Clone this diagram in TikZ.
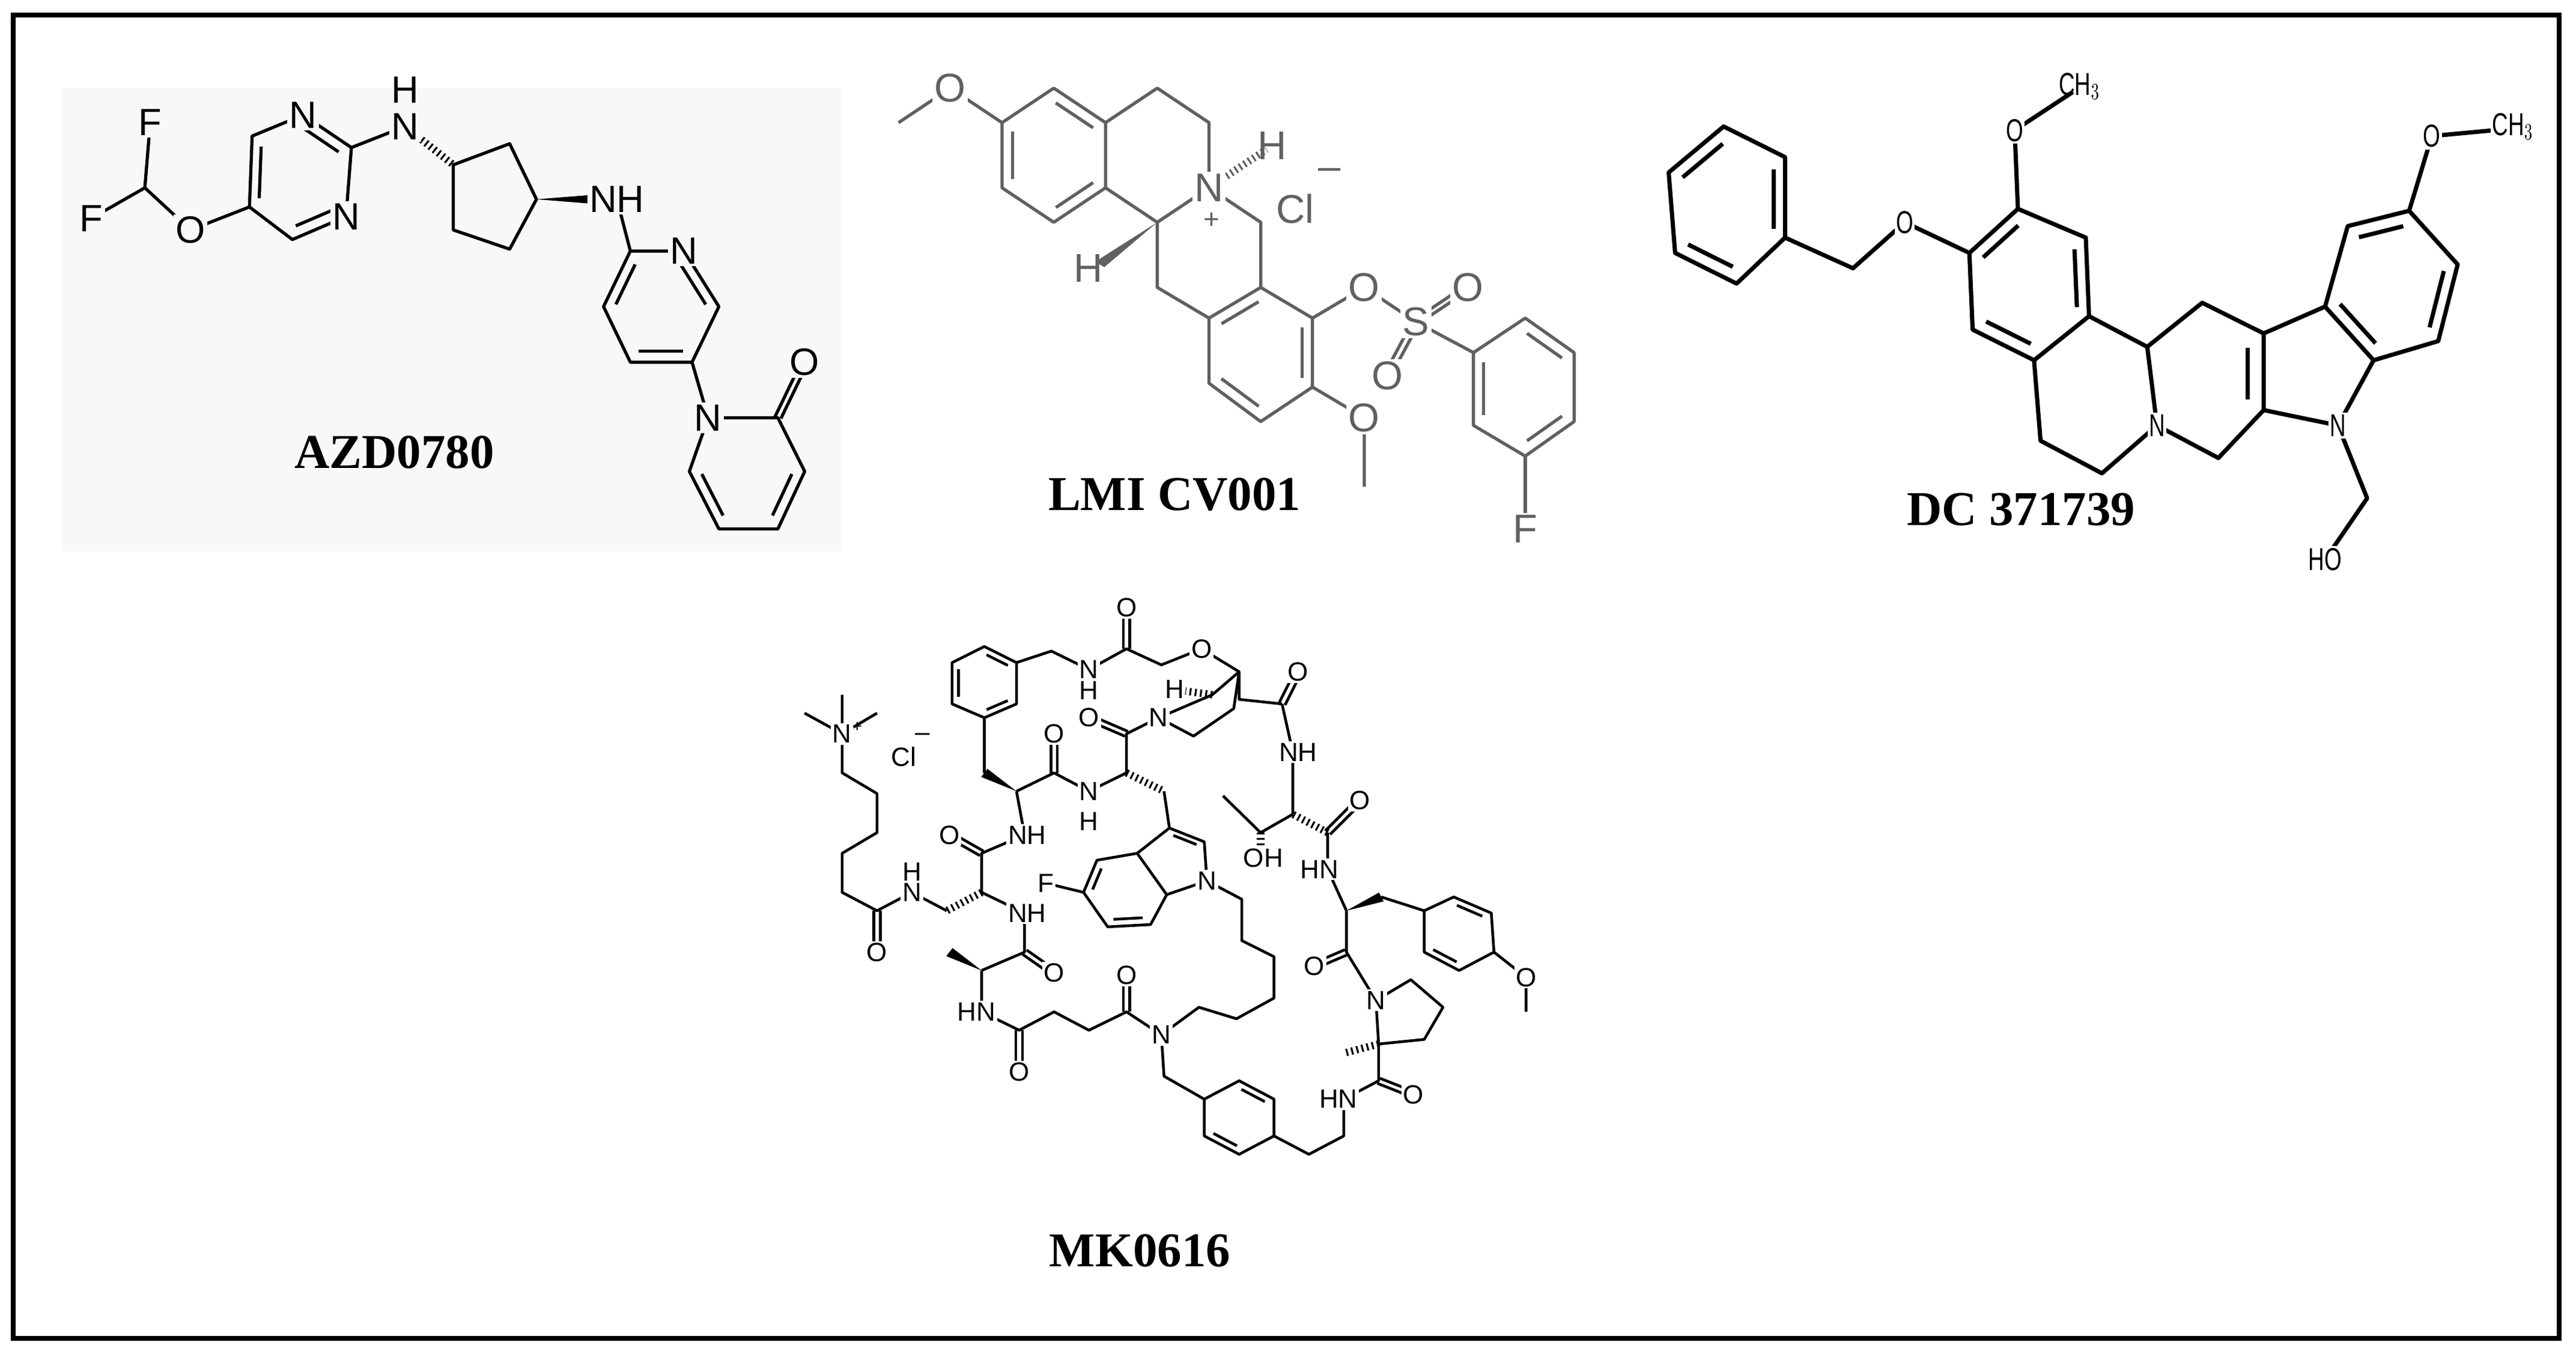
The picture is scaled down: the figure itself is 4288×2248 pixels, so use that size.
\documentclass[tikz,border=0pt]{standalone}
\usepackage{fontspec}
\setmainfont{Liberation Serif}
\newfontfamily\atomf{Liberation Sans}
\usetikzlibrary{calc}
\definecolor{azbg}{HTML}{F7F8F9}
\definecolor{lmig}{HTML}{606060}
\newcommand\inb[3]{\draw[shorten <=1.2pt,shorten >=1.2pt] ($#1!0.2!#3$) -- ($#2!0.2!#3$);}
\newcommand\dbo[2]{\draw ($#1!1.7pt!90:#2$) -- ($#2!1.7pt!-90:#1$); \draw ($#1!1.7pt!-90:#2$) -- ($#2!1.7pt!90:#1$);}
\newcommand\hsh[2]{\draw[line width=3.5pt,dash pattern=on 0.9pt off 1.6pt] #1 -- #2;}
\newcommand\wdg[2]{\fill #1 -- ($#2!3pt!90:#1$) -- ($#2!3pt!-90:#1$) -- cycle;}
\tikzset{
 at1/.style={font=\atomf\fontsize{18}{20}\selectfont,inner sep=1pt,fill=azbg},
 at2/.style={font=\atomf\fontsize{19}{21}\selectfont,inner sep=1pt,fill=white,text=lmig},
 at3/.style={font=\atomf\fontsize{15}{17}\selectfont,inner sep=1pt,fill=white,xscale=0.7},
 at4/.style={font=\atomf\fontsize{12.5}{14}\selectfont,inner sep=0.8pt,fill=white},
 title/.style={font=\bfseries\fontsize{23}{26}\selectfont}
}
\begin{document}
\begin{tikzpicture}[x=0.01cm,y=-0.01cm]
\useasboundingbox (0,0) rectangle (4288,2248);
\fill[white] (0,0) rectangle (4288,2248);
\fill[azbg] (103,147) rectangle (1400,918);
\draw[line width=0.08cm] (22,25) rectangle (4260,2228);

% ---------------- AZD0780
\begin{scope}[shift={(0,0)},xscale=0.893,yscale=0.638,line width=1.5pt,line join=round]
\draw (280,320)--(270,490)--(170,570); \draw (270,490)--(355,600)--(465,540);
\draw (465,540)--(470,355)--(565,300)--(655,385)--(645,565)--(545,625)--cycle;
\inb{(465,540)}{(470,355)}{(555,460)} \inb{(565,300)}{(655,385)}{(555,460)} \inb{(645,565)}{(545,625)}{(555,460)}
\draw (655,385)--(755,330);
\hsh{(755,330)}{(845,430)}
\draw (845,430)--(950,375)--(1000,520)--(950,650)--(845,600)--cycle;
\wdg{(1000,520)}{(1095,520)}
\draw (1150,520)--(1175,655);
\draw (1175,655)--(1275,655)--(1340,800)--(1290,945)--(1175,945)--(1125,800)--cycle;
\inb{(1125,800)}{(1175,655)}{(1230,800)} \inb{(1275,655)}{(1340,800)}{(1230,800)} \inb{(1290,945)}{(1175,945)}{(1230,800)}
\draw (1290,945)--(1320,1090);
\draw (1320,1090)--(1450,1090)--(1500,1230)--(1450,1380)--(1340,1380)--(1285,1230)--cycle;
\dbo{(1450,1090)}{(1500,945)}
\inb{(1500,1230)}{(1450,1380)}{(1390,1235)} \inb{(1340,1380)}{(1285,1230)}{(1390,1235)}
\node[at1] (af1) at (280,320) {F}; \node[at1] (af2) at (170,570) {F};
\node[at1] (ao) at (355,600) {O}; \node[at1] (an1) at (565,300) {N}; \node[at1] (an3) at (645,565) {N};
\node[at1] (anh) at (755,330) {N}; \node[at1,fill=none] (ah) at (755,235) {H};
\node[at1] (anh2) at (1150,520) {NH}; \node[at1] (an4) at (1275,655) {N};
\node[at1] (an5) at (1320,1090) {N}; \node[at1] (ao2) at (1500,945) {O};
\node[title] (t1) at (735,1180) {AZD0780};
\end{scope}

% ---------------- LMI CV001
\begin{scope}[shift={(1400,0)},xscale=0.957,yscale=0.638,line width=1.5pt,draw=lmig,fill=lmig,line join=round]
\draw (100,320)--(190,230)--(280,320);
\draw (280,320)--(370,230)--(460,320)--(460,490)--(370,580)--(280,490)--cycle;
\inb{(370,230)}{(460,320)}{(370,405)} \inb{(460,490)}{(370,580)}{(370,405)} \inb{(280,490)}{(280,320)}{(370,405)}
\draw (460,320)--(550,230)--(640,320)--(640,490)--(550,580)--(460,490);
\hsh{(640,490)}{(740,390)}
\wdg{(550,580)}{(450,690)}
\draw (550,580)--(550,750)--(640,830);
\draw (640,490)--(730,580)--(730,750);
\draw (730,750)--(640,830)--(640,1000)--(730,1100)--(820,1010)--(820,830)--cycle;
\inb{(730,750)}{(640,830)}{(730,920)} \inb{(640,1000)}{(730,1100)}{(730,920)} \inb{(820,830)}{(820,1010)}{(730,920)}
\draw (820,830)--(910,750)--(1000,840)--(1100,920);
\dbo{(1000,840)}{(1090,750)} \dbo{(1000,840)}{(950,980)}
\draw (820,1010)--(910,1090)--(910,1270);
\draw (1100,920)--(1190,830)--(1275,920)--(1275,1100)--(1190,1190)--(1100,1110)--cycle;
\inb{(1190,830)}{(1275,920)}{(1188,1010)} \inb{(1275,1100)}{(1190,1190)}{(1188,1010)} \inb{(1100,1110)}{(1100,920)}{(1188,1010)}
\draw (1190,1190)--(1190,1380);
\node[at2] (lo1) at (190,230) {O};
\node[at2] (ln) at (640,490) {N}; \node[at2,fill=none,font=\atomf\fontsize{13}{14}\selectfont] (lp) at (645,575) {+};
\node[at2,fill=none] (lh1) at (750,380) {H}; \node[at2,fill=none] (lh2) at (430,700) {H};
\node[at2,fill=none] (lcl) at (790,545) {Cl};
\node[at2,fill=none] (lmin) at (850,455) {\textendash};
\node[at2] (lo2) at (910,750) {O}; \node[at2] (ls) at (1000,840) {S};
\node[at2] (lo3) at (1090,750) {O}; \node[at2] (lo4) at (950,980) {O};
\node[at2] (lo5) at (910,1090) {O}; \node[at2] (lf) at (1190,1380) {F};
\node[title] (t2) at (580,1290) {LMI CV001};
\end{scope}

% ---------------- DC 371739
\begin{scope}[shift={(2600,0)},xscale=1.0765,yscale=0.638,line width=2pt,line join=round]
\draw (250,330)--(345,410)--(345,620)--(270,740)--(175,660)--(165,450)--cycle;
\inb{(165,450)}{(250,330)}{(258,535)} \inb{(345,410)}{(345,620)}{(258,535)} \inb{(270,740)}{(175,660)}{(258,535)}
\draw (345,620)--(450,700)--(530,580)--(630,660);
\draw (630,660)--(705,545)--(810,620)--(815,825)--(730,940)--(635,860)--cycle;
\inb{(630,660)}{(705,545)}{(722,740)} \inb{(810,620)}{(815,825)}{(722,740)} \inb{(730,940)}{(635,860)}{(722,740)}
\draw (705,545)--(700,340)--(790,240);
\draw (815,825)--(905,905)--(920,1110)--(835,1235)--(740,1150)--(730,940);
\draw (905,905)--(990,790)--(1085,870)--(1085,1070)--(1015,1195)--(920,1110);
\draw[shorten <=1.5pt,shorten >=1.5pt] (1060,900)--(1060,1050);
\draw (1085,870)--(1180,800)--(1255,940)--(1200,1110)--(1085,1070);
\draw (1180,800)--(1215,590)--(1310,550)--(1385,690)--(1355,890)--(1255,940);
\inb{(1215,590)}{(1310,550)}{(1283,743)} \inb{(1385,690)}{(1355,890)}{(1283,743)} \inb{(1180,800)}{(1255,940)}{(1283,743)}
\draw (1310,550)--(1345,355)--(1440,340);
\draw (1200,1110)--(1245,1300)--(1180,1460);
\node[at3] (do1) at (530,580) {O}; \node[at3] (do2) at (700,340) {O};
\node[at3,fill=none] (dm1) at (800,225) {CH$_3$};
\node[at3] (dn1) at (920,1110) {N}; \node[at3] (dn2) at (1200,1110) {N};
\node[at3] (do3) at (1345,355) {O}; \node[at3] (dm2) at (1470,330) {CH$_3$};
\node[at3] (dho) at (1180,1460) {HO};
\node[title] (t3) at (710,1330) {DC 371739};
\end{scope}

% ---------------- MK0616
\begin{scope}[shift={(1250,950)},xscale=0.893,yscale=0.765,line width=1.3pt,line join=round]
\draw (100,310)--(170,355)--(170,270); \draw (170,355)--(235,310);
\draw (170,355)--(170,440)--(235,485)--(235,570)--(170,615)--(170,700)--(235,740)--(300,700)--(365,740);
\dbo{(235,740)}{(235,830)}
\hsh{(430,700)}{(365,740)}
\draw (430,700)--(430,615)--(510,575); \dbo{(430,615)}{(370,575)}
\draw (430,700)--(510,745)--(510,830)--(430,870); \dbo{(510,830)}{(565,875)}
\wdg{(430,870)}{(370,830)}
\draw (430,870)--(430,960)--(500,1000)--(565,960)--(630,1000)--(700,960)--(765,1010);
\dbo{(500,1000)}{(500,1090)} \dbo{(700,960)}{(700,880)}
\draw (765,1010)--(770,1100)--(845,1150);
\draw (845,1150)--(910,1110)--(975,1150)--(975,1230)--(910,1270)--(845,1230)--cycle;
\inb{(910,1110)}{(975,1150)}{(910,1190)} \inb{(910,1270)}{(845,1230)}{(910,1190)}
\draw (975,1230)--(1040,1270)--(1105,1230)--(1105,1150)--(1170,1110)--(1170,1030);
\dbo{(1170,1110)}{(1235,1140)}
\hsh{(1170,1030)}{(1105,1050)}
\draw (1170,1030)--(1165,935)--(1230,890)--(1290,950)--(1255,1020)--cycle;
\draw (1165,935)--(1110,830)--(1110,740); \dbo{(1110,830)}{(1050,860)}
\wdg{(1110,740)}{(1175,710)}
\draw (1175,710)--(1255,740);
\draw (1255,740)--(1310,710)--(1380,745)--(1385,830)--(1320,870)--(1255,830)--cycle;
\inb{(1310,710)}{(1380,745)}{(1318,790)} \inb{(1320,870)}{(1255,830)}{(1318,790)}
\draw (1385,830)--(1445,885)--(1445,960);
\draw (1110,740)--(1075,650)--(1075,570); \dbo{(1075,570)}{(1135,500)}
\hsh{(1075,570)}{(1010,530)}
\draw (1010,530)--(950,570)--(880,490);
\hsh{(950,570)}{(950,620)}
\draw (1010,530)--(1010,395)--(990,290); \dbo{(990,290)}{(1020,220)}
\draw (990,290)--(910,280)--(910,220)--(840,170)--(765,205)--(700,170)--(630,215)--(560,175)--(495,200);
\dbo{(700,170)}{(700,80)}
\draw (910,220)--(860,270)--(760,320)--(825,360)--(900,300)--(910,220);
\hsh{(860,270)}{(810,262)}
\draw (375,200)--(435,165)--(495,200)--(495,290)--(435,320)--(375,290)--cycle;
\inb{(435,165)}{(495,200)}{(435,243)} \inb{(495,290)}{(435,320)}{(435,243)} \inb{(375,290)}{(375,200)}{(435,243)}
\draw (435,320)--(435,440);
\wdg{(495,480)}{(435,440)}
\draw (495,480)--(510,575); \draw (495,480)--(565,440)--(630,480)--(700,440)--(700,355)--(760,320);
\dbo{(565,440)}{(565,355)} \dbo{(700,355)}{(630,320)}
\hsh{(700,440)}{(770,480)}
\draw (770,480)--(780,560);
\draw (780,560)--(845,590)--(850,675)--(775,705)--(720,615)--cycle;
\inb{(780,560)}{(845,590)}{(795,630)}
\draw (720,615)--(645,630)--(620,700)--(665,775)--(745,770)--(775,705);
\inb{(645,630)}{(620,700)}{(695,695)} \inb{(665,775)}{(745,770)}{(695,695)}
\draw (620,700)--(550,680);
\draw (850,675)--(915,715)--(915,805)--(975,840)--(975,930)--(905,975)--(835,950)--(765,1010);
\node[at4] (mn1) at (170,355) {N}; \node[at4,fill=none,font=\atomf\fontsize{8}{9}\selectfont] (mp) at (198,340) {+};
\node[at4,fill=none] (mcl) at (285,405) {Cl}; \node[at4,fill=none] (mmin) at (320,362) {\textendash};
\node[at4] (mo1) at (235,830) {O};
\node[at4] (mn2) at (300,700) {N}; \node[at4,fill=none] (mh2) at (300,655) {H};
\node[at4] (mo2) at (370,575) {O}; \node[at4] (mn3) at (515,575) {NH};
\node[at4] (mn4) at (515,745) {NH}; \node[at4] (mo3) at (565,875) {O};
\node[at4] (mn5) at (420,960) {HN}; \node[at4] (mo4) at (500,1090) {O};
\node[at4] (mo5) at (700,880) {O}; \node[at4] (mn6) at (765,1010) {N};
\node[at4] (mn7) at (1095,1150) {HN}; \node[at4] (mo6) at (1235,1140) {O};
\node[at4] (mn8) at (1165,935) {N}; \node[at4] (mo7) at (1050,860) {O};
\node[at4] (mo8) at (1445,885) {O};
\node[at4] (mn9) at (1060,650) {HN}; \node[at4] (mo9) at (1135,500) {O};
\node[at4] (mo10) at (955,625) {OH};
\node[at4] (mn10) at (1020,395) {NH}; \node[at4] (mo11) at (1020,220) {O};
\node[at4] (mo12) at (840,170) {O}; \node[at4] (mo13) at (700,80) {O};
\node[at4] (mn11) at (630,215) {N}; \node[at4,fill=none] (mh11) at (630,260) {H};
\node[at4] (mn12) at (760,320) {N}; \node[at4,fill=none] (mh12) at (790,258) {H};
\node[at4] (mo14) at (565,355) {O}; \node[at4] (mo15) at (630,320) {O};
\node[at4] (mn13) at (630,480) {N}; \node[at4,fill=none] (mh13) at (630,545) {H};
\node[at4] (mn14) at (850,675) {N}; \node[at4] (mf) at (550,680) {F};
\node[title] (t4) at (725,1480) {MK0616};
\end{scope}
\end{tikzpicture}
\end{document}
